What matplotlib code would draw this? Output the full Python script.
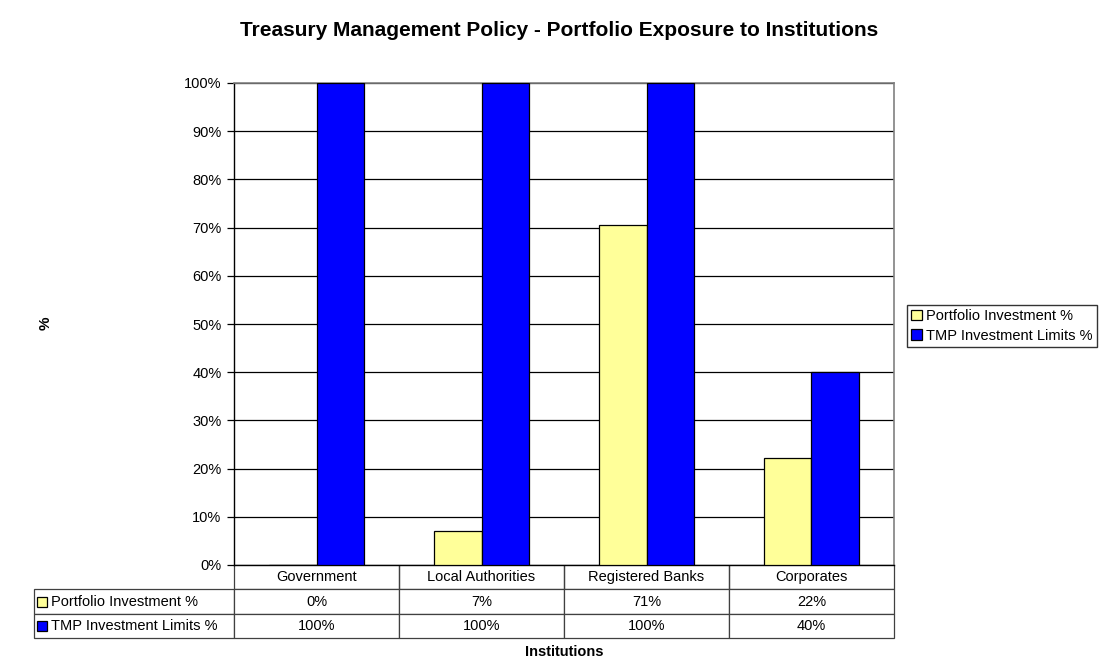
import numpy as np
import matplotlib.pyplot as plt
from matplotlib.patches import Rectangle

plt.rcParams['font.family'] = ['Liberation Sans', 'DejaVu Sans']

# data
categories = ['Government', 'Local Authorities', 'Registered Banks', 'Corporates']
series = ['Portfolio Investment %', 'TMP Investment Limits %']
portfolio = [0.0, 7.1, 70.6, 22.3]
limits = [100.0, 100.0, 100.0, 40.0]
portfolio_lbl = ['0%', '7%', '71%', '22%']
limits_lbl = ['100%', '100%', '100%', '40%']
colors = ['#FFFF99', '#0000FF']

W, H = 1104, 659
fig = plt.figure(figsize=(W / 100, H / 100), dpi=100)
x0, x1, y0, y1 = 234, 894, 83, 565
ax = fig.add_axes([x0 / W, 1 - y1 / H, (x1 - x0) / W, (y1 - y0) / H])
fs = 10.5

x = np.arange(len(categories))
bw = 1 / 3.5
ax.bar(x - bw / 2, portfolio, bw, color=colors[0], edgecolor='black', linewidth=0.9,
       label=series[0], zorder=3)
ax.bar(x + bw / 2, limits, bw, color=colors[1], edgecolor='black', linewidth=0.9,
       label=series[1], zorder=3)

ax.set_xlim(-0.5, len(categories) - 0.5)
ax.set_ylim(0, 100)
ax.set_yticks(np.arange(0, 101, 10))
ax.set_yticklabels(['%d%%' % v for v in range(0, 101, 10)], fontsize=fs)
ax.set_xticks([])
ax.yaxis.grid(True, color='black', linewidth=0.9, zorder=0)
ax.tick_params(axis='y', direction='out', length=5, width=0.9, pad=4)
for s in ['top', 'right']:
    ax.spines[s].set_color('#808080')
    ax.spines[s].set_linewidth(1.2)
for s in ['left', 'bottom']:
    ax.spines[s].set_color('black')
    ax.spines[s].set_linewidth(1)

# data table below
lw_px = 200
cw = [lw_px] + [(x1 - x0) / 4] * 4
tot = sum(cw)
rows = [[''] + categories,
        [series[0]] + portfolio_lbl,
        [series[1]] + limits_lbl]
th = 73
tbl = ax.table(cellText=rows, colWidths=[c / tot for c in cw], cellLoc='center',
               bbox=[-lw_px / (x1 - x0), -th / (y1 - y0), tot / (x1 - x0), th / (y1 - y0)])
tbl.auto_set_font_size(False)
for (r, c), cell in tbl.get_celld().items():
    cell.set_fontsize(fs)
    cell.set_edgecolor('#404040')
    cell.set_linewidth(0.9)
    if c == 0:
        cell.get_text().set_ha('left')
        cell.PAD = 17 / lw_px
    if r == 0 and c == 0:
        cell.visible_edges = ''
    if r == 0 and c > 0:
        cell.visible_edges = 'BLR'

# legend swatches inside the table
for i, col in enumerate(colors):
    yc = 602 + i * 24
    ax.add_patch(Rectangle(((37 - x0) / (x1 - x0), (y1 - yc - 5) / (y1 - y0)),
                           10 / (x1 - x0), 10 / (y1 - y0), transform=ax.transAxes,
                           facecolor=col, edgecolor='black', linewidth=0.9,
                           clip_on=False, zorder=5))

ax.legend(loc='center left', bbox_to_anchor=((907 - x0) / (x1 - x0), (y1 - 326) / (y1 - y0)),
          frameon=True, fancybox=False, edgecolor='black', fontsize=fs,
          handlelength=0.7, handleheight=0.7, handletextpad=0.3, borderpad=0.3,
          labelspacing=0.35, borderaxespad=0)

fig.text(559 / W, 1 - 30 / H, 'Treasury Management Policy - Portfolio Exposure to Institutions',
         ha='center', va='center', fontsize=15, fontweight='bold')
fig.text(564 / W, 1 - 652 / H, 'Institutions', ha='center', va='center',
         fontsize=10.5, fontweight='bold')
fig.text(46 / W, 1 - 323 / H, '%', ha='center', va='center', rotation=90,
         fontsize=11, fontweight='bold')

fig.savefig('out.png', dpi=100)
